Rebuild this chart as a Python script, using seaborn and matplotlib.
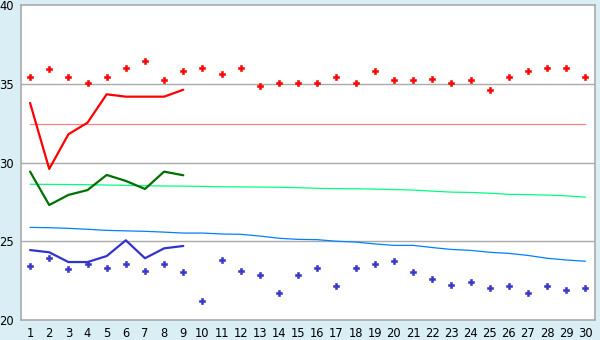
import matplotlib
matplotlib.use("Agg")
import matplotlib.pyplot as plt
import seaborn as sns
import pandas as pd
import numpy as np

days = list(range(1, 31))

red_points = [35.41, 35.92, 35.40, 35.03, 35.40, 35.98, 36.42, 35.22, 35.79, 35.98,
              35.60, 35.98, 34.84, 35.03, 35.03, 35.03, 35.41, 35.03, 35.79, 35.22,
              35.22, 35.28, 35.03, 35.22, 34.58, 35.41, 35.79, 35.98, 35.98, 35.41]
red_line = [33.78, 29.59, 31.79, 32.53, 34.33, 34.18, 34.18, 34.18, 34.62]
red_avg = [32.42] * 30

green_line = [29.42, 27.30, 27.94, 28.25, 29.21, 28.83, 28.32, 29.42, 29.19]
green_avg = [28.62, 28.61, 28.60, 28.59, 28.57, 28.55, 28.52, 28.51, 28.50, 28.48,
             28.46, 28.45, 28.44, 28.43, 28.40, 28.36, 28.34, 28.33, 28.31, 28.28,
             28.25, 28.18, 28.12, 28.10, 28.05, 27.98, 27.96, 27.93, 27.88, 27.80]

blue_avg = [25.88, 25.86, 25.82, 25.76, 25.69, 25.66, 25.63, 25.58, 25.52, 25.52,
            25.46, 25.44, 25.33, 25.19, 25.12, 25.10, 25.00, 24.95, 24.83, 24.74,
            24.74, 24.60, 24.48, 24.42, 24.30, 24.23, 24.10, 23.92, 23.81, 23.73]
blue_line = [24.44, 24.30, 23.68, 23.68, 24.06, 25.06, 23.92, 24.55, 24.70]
blue_points = [23.41, 23.92, 23.22, 23.54, 23.28, 23.54, 23.09, 23.54, 23.03, 21.19,
               23.79, 23.09, 22.84, 21.70, 22.84, 23.28, 22.14, 23.28, 23.54, 23.75,
               23.03, 22.59, 22.20, 22.40, 22.01, 22.14, 21.70, 22.14, 21.89, 22.01]

sns.set_style("white")
plt.rcParams['font.family'] = ['DejaVu Sans']

bg = "#d9eff5"
fig = plt.figure(figsize=(6, 3.4), dpi=100, facecolor=bg)
ax = fig.add_axes([20.5 / 600, 20 / 340, 574.5 / 600, 315 / 340])
ax.set_facecolor("white")

for v in (25, 30, 35):
    ax.axhline(v, color="#aaaaaa", lw=1.0, zorder=0)

d9 = days[:9]
sns.lineplot(x=days, y=red_avg, color="#ff8080", lw=0.9, ax=ax)
sns.lineplot(x=days, y=green_avg, color="#00ff80", lw=0.9, ax=ax)
sns.lineplot(x=days, y=blue_avg, color="#0080ff", lw=0.9, ax=ax)
sns.lineplot(x=d9, y=red_line, color="#ff0000", lw=1.6, ax=ax)
sns.lineplot(x=d9, y=green_line, color="#007000", lw=1.6, ax=ax)
sns.lineplot(x=d9, y=blue_line, color="#3333cc", lw=1.6, ax=ax)
sns.scatterplot(x=days, y=red_points, color="#ff0000", marker="P", s=20,
                linewidth=0.4, edgecolor="#ff0000", ax=ax)
sns.scatterplot(x=days, y=blue_points, color="#3535c8", marker="P", s=20,
                linewidth=0.4, edgecolor="#3535c8", ax=ax)

ax.set_xlim(0.5, 30.5)
ax.set_ylim(20, 40)
ax.set_xticks(days)
ax.set_xticklabels([str(d) for d in days])
ax.set_yticks([20, 25, 30, 35, 40])
ax.tick_params(axis="both", labelsize=8.3, colors="black", length=4, width=1,
               direction="out", pad=1)
for s in ax.spines.values():
    s.set_color("#aaaaaa")
    s.set_linewidth(1.2)
ax.set_xlabel("")
ax.set_ylabel("")

fig.savefig("out.png", dpi=100, facecolor=bg)
